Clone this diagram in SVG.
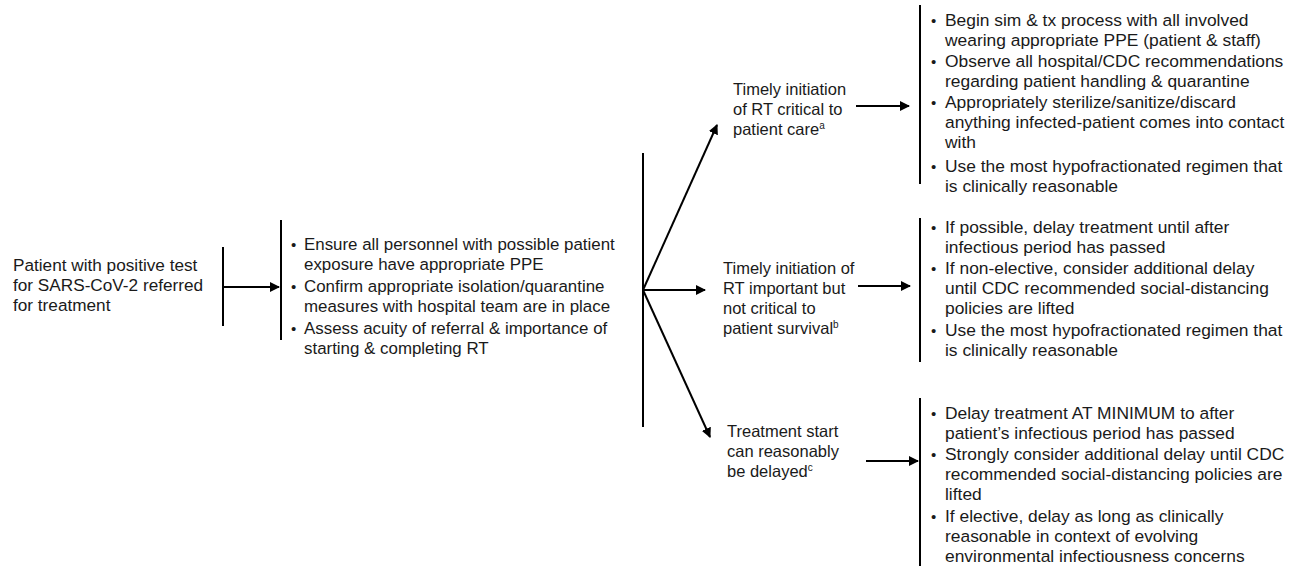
<svg xmlns="http://www.w3.org/2000/svg" width="1304" height="573" viewBox="0 0 1304 573">
<style>
text{font-family:"Liberation Sans",Arial,sans-serif;font-size:16.5px;fill:#1a1a1a}
.r text{font-size:17.4px}
.m text{font-size:16.9px}
.l text{font-size:17.2px}
.b{font-size:15px!important}
.bar{stroke:#000;stroke-width:2;fill:none}
.con{stroke:#000;stroke-width:2;fill:none;marker-end:url(#ah)}
.sup{font-size:10px}
</style>
<defs>
<marker id="ah" viewBox="0 0 10 10" refX="9" refY="5" markerWidth="5" markerHeight="5" orient="auto" markerUnits="strokeWidth">
<path d="M0,0 L10,5 L0,10 z" fill="#000"/>
</marker>
</defs>
<rect width="1304" height="573" fill="#fff"/>

<g id="start" class="l">
<text x="13" y="271"><tspan x="13">Patient with positive test</tspan><tspan x="13" dy="20">for SARS-CoV-2 referred</tspan><tspan x="13" dy="20">for treatment</tspan></text>
</g>

<g id="initial-steps" class="m">
<line class="bar" x1="281" y1="220" x2="281" y2="340"/>
<text class="b" x="291" y="250">•</text><text x="304" y="250">Ensure all personnel with possible patient</text>
<text x="304" y="270">exposure have appropriate PPE</text>
<text class="b" x="291" y="292">•</text><text x="304" y="292">Confirm appropriate isolation/quarantine</text>
<text x="304" y="312">measures with hospital team are in place</text>
<text class="b" x="291" y="334">•</text><text x="304" y="334">Assess acuity of referral &amp; importance of</text>
<text x="304" y="354">starting &amp; completing RT</text>
</g>

<g id="branch">
<line class="bar" x1="643" y1="153" x2="643" y2="427"/>
</g>

<g id="critical">
<text x="733" y="95"><tspan x="733">Timely initiation</tspan><tspan x="733" dy="20">of RT critical to</tspan><tspan x="733" dy="20">patient care<tspan class="sup" dy="-6">a</tspan></tspan></text>
</g>

<g id="important">
<text x="723" y="274"><tspan x="723">Timely initiation of</tspan><tspan x="723" dy="20">RT important but</tspan><tspan x="723" dy="20">not critical to</tspan><tspan x="723" dy="20">patient survival<tspan class="sup" dy="-6">b</tspan></tspan></text>
</g>

<g id="delayable">
<text x="727" y="437"><tspan x="727">Treatment start</tspan><tspan x="727" dy="20">can reasonably</tspan><tspan x="727" dy="20">be delayed<tspan class="sup" dy="-6">c</tspan></tspan></text>
</g>

<g id="critical-actions" class="r">
<line class="bar" x1="920" y1="5" x2="920" y2="184"/>
<text class="b" x="931" y="26">•</text><text x="945" y="26">Begin sim &amp; tx process with all involved</text>
<text x="945" y="46">wearing appropriate PPE (patient &amp; staff)</text>
<text class="b" x="931" y="67">•</text><text x="945" y="67">Observe all hospital/CDC recommendations</text>
<text x="945" y="87">regarding patient handling &amp; quarantine</text>
<text class="b" x="931" y="108">•</text><text x="945" y="108">Appropriately sterilize/sanitize/discard</text>
<text x="945" y="128">anything infected-patient comes into contact</text>
<text x="945" y="148">with</text>
<text class="b" x="931" y="172">•</text><text x="945" y="172">Use the most hypofractionated regimen that</text>
<text x="945" y="192">is clinically reasonable</text>
</g>

<g id="important-actions" class="r">
<line class="bar" x1="920" y1="218" x2="920" y2="362"/>
<text class="b" x="931" y="233">•</text><text x="945" y="233">If possible, delay treatment until after</text>
<text x="945" y="253">infectious period has passed</text>
<text class="b" x="931" y="274">•</text><text x="945" y="274">If non-elective, consider additional delay</text>
<text x="945" y="294">until CDC recommended social-distancing</text>
<text x="945" y="314">policies are lifted</text>
<text class="b" x="931" y="336">•</text><text x="945" y="336">Use the most hypofractionated regimen that</text>
<text x="945" y="356">is clinically reasonable</text>
</g>

<g id="delay-actions" class="r">
<line class="bar" x1="920" y1="398" x2="920" y2="566"/>
<text class="b" x="931" y="419">•</text><text x="945" y="419">Delay treatment AT MINIMUM to after</text>
<text x="945" y="439">patient’s infectious period has passed</text>
<text class="b" x="931" y="460">•</text><text x="945" y="460">Strongly consider additional delay until CDC</text>
<text x="945" y="480">recommended social-distancing policies are</text>
<text x="945" y="500">lifted</text>
<text class="b" x="931" y="522">•</text><text x="945" y="522">If elective, delay as long as clinically</text>
<text x="945" y="542">reasonable in context of evolving</text>
<text x="945" y="562">environmental infectiousness concerns</text>
</g>

<g id="connectors">
<line class="bar" x1="223" y1="247" x2="223" y2="326"/>
<line class="con" x1="223" y1="287" x2="279" y2="287"/>
<line class="con" x1="643" y1="290" x2="717" y2="125"/>
<line class="con" x1="643" y1="290" x2="705" y2="290"/>
<line class="con" x1="643" y1="290" x2="710" y2="437"/>
<line class="con" x1="856" y1="106" x2="909" y2="106"/>
<line class="con" x1="858" y1="286" x2="910" y2="286"/>
<line class="con" x1="866" y1="461" x2="918" y2="461"/>
</g>
</svg>
